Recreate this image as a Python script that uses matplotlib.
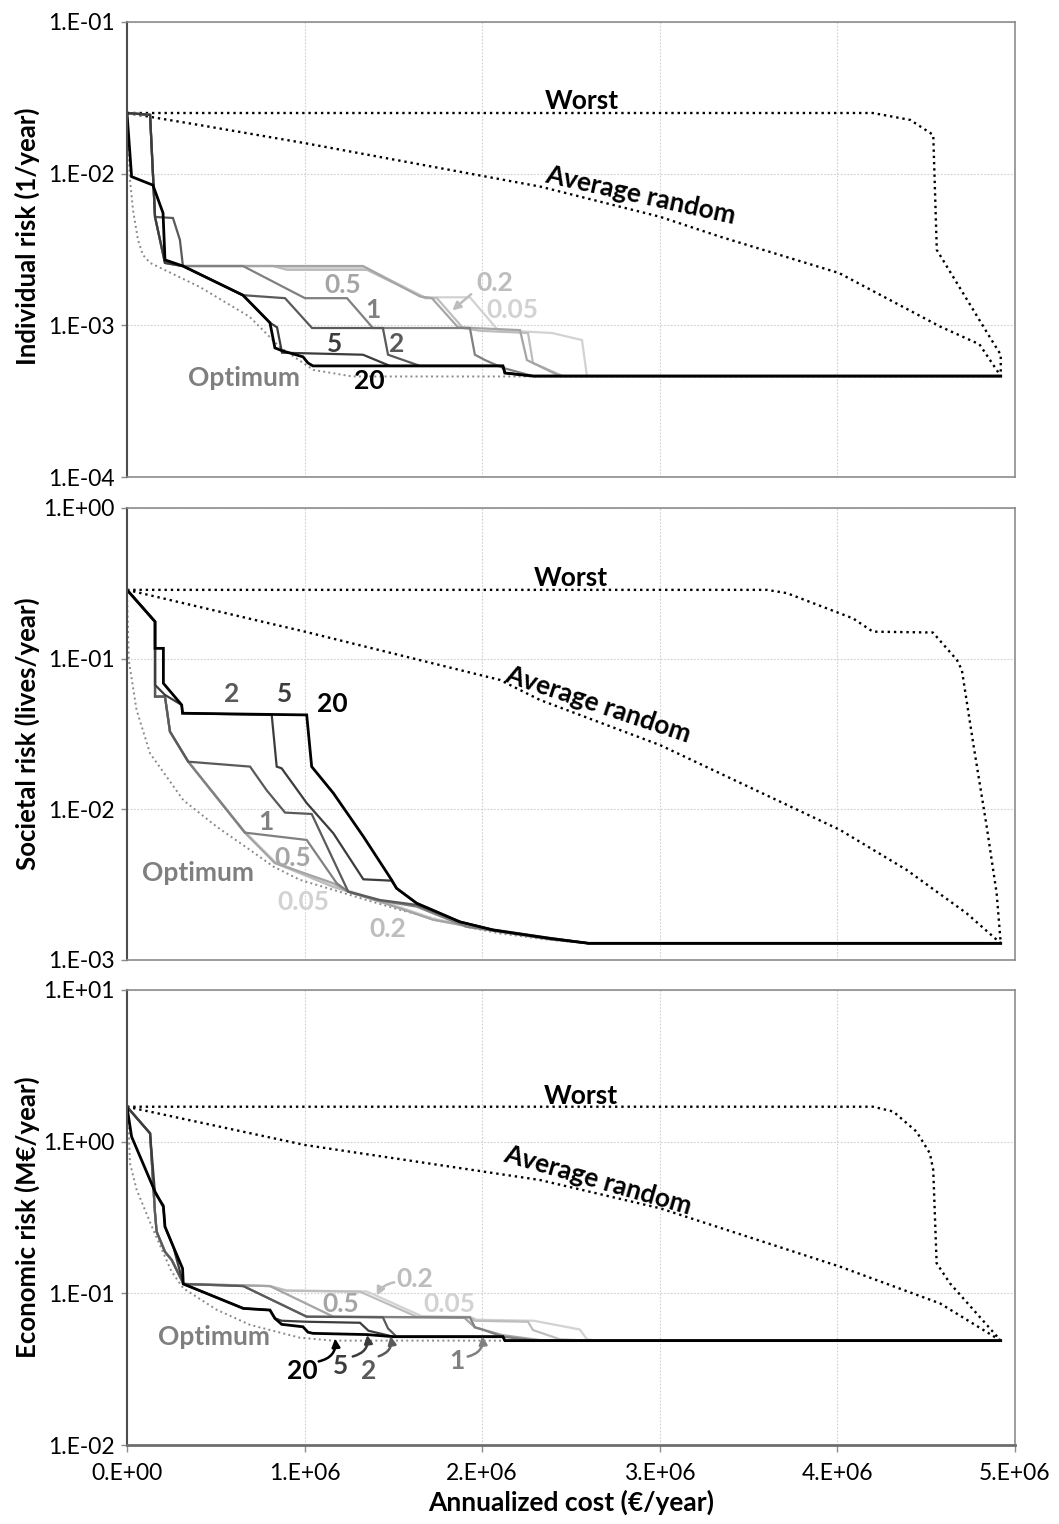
import numpy as np
import matplotlib
matplotlib.use("Agg")
import matplotlib.pyplot as plt
from matplotlib.ticker import FixedLocator, FuncFormatter, NullLocator

plt.rcParams['font.family'] = ['Lato', 'DejaVu Sans']

# ---------------------------------------------------------------
# data, cost in M€/year (scaled to €/year when plotted)
# ---------------------------------------------------------------

# --- individual risk (1/year) ---
ir_cost_20 = [0, 0.026, 0.146, 0.203, 0.214, 0.315, 0.653, 0.805, 0.833, 0.873, 0.991, 1.019, 1.047, 2.117, 2.128, 2.286, 4.92]
ir_risk_20 = [2.51e-2, 9.55e-3, 8.4e-3, 5.5e-3, 2.7e-3, 2.46e-3, 1.58e-3, 1.04e-3, 7.1e-4, 6.8e-4, 6.2e-4, 5.65e-4, 5.4e-4, 5.4e-4, 4.85e-4, 4.63e-4, 4.63e-4]
ir_cost_5 = [0, 0.13, 0.158, 0.214, 0.315, 0.653, 0.805, 0.845, 0.873, 1.329, 1.481, 2.117, 2.128, 2.286, 4.92]
ir_risk_5 = [2.51e-2, 2.44e-2, 5.18e-3, 2.58e-3, 2.46e-3, 1.58e-3, 1.04e-3, 9.7e-4, 6.6e-4, 6.4e-4, 5.4e-4, 5.4e-4, 4.85e-4, 4.63e-4, 4.63e-4]
ir_cost_2 = [0, 0.13, 0.158, 0.259, 0.298, 0.315, 0.653, 0.89, 1.042, 1.441, 1.47, 1.65, 2.117, 2.128, 2.286, 4.92]
ir_risk_2 = [2.51e-2, 2.44e-2, 5.18e-3, 5.1e-3, 3.66e-3, 2.46e-3, 1.58e-3, 1.51e-3, 9.6e-4, 9.6e-4, 6.4e-4, 5.4e-4, 5.4e-4, 4.85e-4, 4.63e-4, 4.63e-4]
ir_cost_1 = [0, 0.13, 0.158, 0.214, 0.315, 0.653, 1.002, 1.239, 1.385, 1.931, 1.959, 2.016, 2.117, 2.286, 4.92]
ir_risk_1 = [2.51e-2, 2.44e-2, 5.18e-3, 2.58e-3, 2.46e-3, 2.46e-3, 1.51e-3, 1.51e-3, 9.6e-4, 9.6e-4, 6.4e-4, 5.9e-4, 5.24e-4, 4.63e-4, 4.63e-4]
ir_cost_05 = [0, 0.13, 0.158, 0.214, 0.315, 1.329, 1.65, 1.717, 1.864, 2.213, 2.252, 2.438, 4.92]
ir_risk_05 = [2.51e-2, 2.44e-2, 5.18e-3, 2.58e-3, 2.46e-3, 2.46e-3, 1.55e-3, 1.51e-3, 9.7e-4, 9.3e-4, 5.9e-4, 4.63e-4, 4.63e-4]
ir_cost_02 = [0, 0.13, 0.158, 0.214, 0.315, 0.822, 0.901, 1.351, 1.678, 1.745, 1.892, 1.988, 2.258, 2.286, 2.455, 4.92]
ir_risk_02 = [2.51e-2, 2.44e-2, 5.18e-3, 2.58e-3, 2.46e-3, 2.46e-3, 2.32e-3, 2.32e-3, 1.51e-3, 1.51e-3, 9.6e-4, 9.2e-4, 8.9e-4, 5.65e-4, 4.63e-4, 4.63e-4]
ir_cost_005 = [0, 0.13, 0.158, 0.214, 0.315, 0.822, 0.901, 1.351, 1.678, 1.931, 2.089, 2.393, 2.562, 2.59, 4.92]
ir_risk_005 = [2.51e-2, 2.44e-2, 5.18e-3, 2.58e-3, 2.46e-3, 2.46e-3, 2.38e-3, 2.38e-3, 1.53e-3, 1.53e-3, 9.3e-4, 8.9e-4, 8.0e-4, 4.63e-4, 4.63e-4]
ir_cost_opt = [0, 0.017, 0.034, 0.062, 0.09, 0.13, 0.41, 0.69, 0.86, 1.05, 1.27, 4.92]
ir_risk_opt = [2.51e-2, 9.1e-3, 5.75e-3, 3.66e-3, 2.91e-3, 2.58e-3, 1.79e-3, 1.14e-3, 7.2e-4, 5.08e-4, 4.6e-4, 4.6e-4]
ir_cost_worst = [0, 4.2, 4.41, 4.48, 4.54, 4.56, 4.86, 4.92, 4.92]
ir_risk_worst = [2.51e-2, 2.51e-2, 2.26e-2, 2.0e-2, 1.8e-2, 3.14e-3, 8.3e-4, 6.4e-4, 4.63e-4]
ir_cost_avg = [0, 0.41, 1.0, 2.33, 3.0, 3.34, 4.01, 4.35, 4.58, 4.8, 4.92]
ir_risk_avg = [2.51e-2, 2.09e-2, 1.59e-2, 8.2e-3, 5.2e-3, 3.84e-3, 2.21e-3, 1.36e-3, 9.8e-4, 7.5e-4, 4.63e-4]

# --- societal risk (lives/year) ---
sr_cost_20 = [0, 0.158, 0.158, 0.205, 0.205, 0.308, 0.313, 1.012, 1.04, 1.162, 1.331, 1.49, 1.518, 1.631, 1.875, 2.063, 2.382, 2.6, 4.92]
sr_risk_20 = [0.286, 0.176, 0.117, 0.117, 0.0686, 0.0493, 0.0434, 0.0423, 0.0192, 0.0128, 0.0066, 0.0034, 0.00299, 0.00238, 0.00179, 0.00158, 0.00139, 0.00129, 0.00129]
sr_cost_5 = [0, 0.158, 0.158, 0.214, 0.308, 0.313, 0.815, 0.843, 0.871, 1.012, 1.162, 1.331, 1.49, 1.518, 1.631, 1.875, 2.063, 2.382, 2.6, 4.92]
sr_risk_5 = [0.286, 0.176, 0.0669, 0.0574, 0.0493, 0.0434, 0.0423, 0.0192, 0.0187, 0.011, 0.00693, 0.00343, 0.00336, 0.00299, 0.00238, 0.00179, 0.00158, 0.00139, 0.00129, 0.00129]
sr_cost_2 = [0, 0.158, 0.158, 0.214, 0.242, 0.345, 0.693, 0.786, 0.89, 1.04, 1.246, 1.425, 1.631, 1.875, 2.063, 2.382, 2.6, 4.92]
sr_risk_2 = [0.286, 0.176, 0.056, 0.056, 0.0328, 0.0207, 0.0192, 0.0134, 0.00951, 0.00931, 0.00284, 0.0025, 0.00232, 0.00179, 0.00158, 0.00139, 0.00129, 0.00129]
sr_cost_1 = [0, 0.158, 0.158, 0.214, 0.242, 0.345, 0.664, 1.012, 1.181, 1.246, 1.406, 1.631, 1.913, 2.382, 2.6, 4.92]
sr_risk_1 = [0.286, 0.176, 0.056, 0.056, 0.0328, 0.0207, 0.007, 0.00626, 0.00323, 0.00284, 0.0025, 0.00226, 0.00166, 0.00137, 0.00129, 0.00129]
sr_cost_05 = [0, 0.158, 0.158, 0.214, 0.242, 0.345, 0.664, 0.833, 1.162, 1.246, 1.443, 1.725, 1.913, 2.382, 2.6, 4.92]
sr_risk_05 = [0.286, 0.176, 0.056, 0.056, 0.0328, 0.0207, 0.007, 0.0044, 0.00323, 0.00284, 0.0024, 0.00185, 0.00168, 0.0014, 0.00129, 0.00129]
sr_cost_02 = [0, 0.158, 0.158, 0.214, 0.242, 0.345, 0.664, 0.833, 1.162, 1.443, 1.725, 1.913, 2.382, 2.6, 4.92]
sr_risk_02 = [0.286, 0.176, 0.056, 0.056, 0.0328, 0.0207, 0.007, 0.0044, 0.00305, 0.0024, 0.00185, 0.00168, 0.0014, 0.00129, 0.00129]
sr_cost_005 = [0, 0.158, 0.158, 0.214, 0.242, 0.345, 0.664, 0.833, 1.162, 1.443, 1.725, 1.913, 2.382, 2.6, 4.92]
sr_risk_005 = [0.286, 0.176, 0.056, 0.056, 0.0328, 0.0207, 0.0071, 0.0045, 0.0031, 0.00245, 0.00188, 0.0017, 0.0014, 0.00129, 0.00129]
sr_cost_opt = [0, 0.01, 0.054, 0.13, 0.317, 0.505, 0.693, 0.824, 0.974, 1.162, 1.349, 1.537, 1.725, 1.913, 2.1, 2.382, 2.6, 4.92]
sr_risk_opt = [0.286, 0.098, 0.0456, 0.0235, 0.0115, 0.00767, 0.00537, 0.00417, 0.0034, 0.00292, 0.0025, 0.00215, 0.00189, 0.00166, 0.0015, 0.00136, 0.00129, 0.00129]
sr_cost_worst = [0, 3.603, 3.716, 4.088, 4.2, 4.538, 4.673, 4.701, 4.765, 4.841, 4.897, 4.92]
sr_risk_worst = [0.286, 0.286, 0.272, 0.185, 0.151, 0.149, 0.098, 0.0841, 0.0274, 0.00767, 0.00277, 0.00129]
sr_cost_avg = [0, 0.41, 1.002, 2.1, 2.325, 3.001, 4.015, 4.39, 4.728, 4.92]
sr_risk_avg = [0.286, 0.22, 0.151, 0.0722, 0.0532, 0.0267, 0.0073, 0.00396, 0.00204, 0.00129]

# --- economic risk (M€/year) ---
er_cost_20 = [0, 0.026, 0.158, 0.205, 0.214, 0.261, 0.313, 0.317, 0.655, 0.805, 0.833, 0.871, 0.991, 1.019, 1.047, 1.35, 1.5, 2.117, 2.128, 4.92]
er_risk_20 = [1.70, 1.079, 0.468, 0.3726, 0.2752, 0.203, 0.146, 0.1154, 0.0796, 0.0776, 0.0684, 0.0625, 0.0602, 0.0555, 0.0545, 0.0535, 0.0518, 0.0518, 0.0488, 0.0488]
er_cost_5 = [0, 0.13, 0.158, 0.205, 0.214, 0.261, 0.317, 0.655, 0.805, 0.833, 0.871, 1.012, 1.312, 1.36, 1.5, 2.117, 2.128, 4.92]
er_risk_5 = [1.70, 1.135, 0.456, 0.382, 0.2752, 0.203, 0.1154, 0.0796, 0.0776, 0.0684, 0.066, 0.065, 0.064, 0.0567, 0.0518, 0.0518, 0.0488, 0.0488]
er_cost_2 = [0, 0.13, 0.158, 0.167, 0.214, 0.252, 0.313, 0.317, 0.655, 1.012, 1.441, 1.47, 1.518, 2.117, 2.128, 4.92]
er_risk_2 = [1.70, 1.135, 0.337, 0.255, 0.188, 0.166, 0.119, 0.1154, 0.1117, 0.0702, 0.0695, 0.0587, 0.0518, 0.0518, 0.0488, 0.0488]
er_cost_1 = [0, 0.13, 0.158, 0.167, 0.214, 0.252, 0.313, 0.317, 0.655, 1.012, 1.931, 1.959, 2.0, 2.117, 2.3, 4.92]
er_risk_1 = [1.70, 1.135, 0.337, 0.255, 0.188, 0.166, 0.119, 0.1154, 0.1117, 0.0702, 0.0695, 0.0597, 0.0578, 0.0518, 0.0488, 0.0488]
er_cost_05 = [0, 0.13, 0.158, 0.167, 0.214, 0.252, 0.313, 0.317, 0.805, 1.162, 1.90, 1.959, 2.117, 2.35, 4.92]
er_risk_05 = [1.70, 1.135, 0.337, 0.255, 0.188, 0.166, 0.119, 0.1154, 0.1117, 0.0702, 0.0690, 0.0597, 0.0530, 0.0488, 0.0488]
er_cost_02 = [0, 0.13, 0.158, 0.167, 0.214, 0.252, 0.313, 0.317, 0.805, 0.899, 1.312, 1.631, 1.931, 1.959, 2.258, 2.286, 2.438, 2.6, 4.92]
er_risk_02 = [1.70, 1.135, 0.337, 0.255, 0.188, 0.166, 0.119, 0.1154, 0.1117, 0.1041, 0.1026, 0.0702, 0.0695, 0.066, 0.065, 0.0573, 0.0498, 0.0488, 0.0488]
er_cost_005 = [0, 0.13, 0.158, 0.167, 0.214, 0.252, 0.313, 0.317, 0.805, 0.899, 1.35, 1.66, 1.931, 1.97, 2.29, 2.55, 2.59, 2.65, 4.92]
er_risk_005 = [1.70, 1.135, 0.337, 0.255, 0.188, 0.166, 0.119, 0.1154, 0.1117, 0.1045, 0.103, 0.0707, 0.070, 0.067, 0.066, 0.0578, 0.0498, 0.0488, 0.0488]
er_cost_opt = [0, 0.01, 0.017, 0.055, 0.148, 0.25, 0.317, 0.505, 0.693, 0.974, 1.162, 4.92]
er_risk_opt = [1.70, 1.19, 0.72, 0.48, 0.262, 0.14, 0.108, 0.078, 0.062, 0.051, 0.0488, 0.0488]
er_cost_worst = [0, 4.202, 4.315, 4.446, 4.521, 4.54, 4.559, 4.634, 4.92]
er_risk_worst = [1.70, 1.70, 1.58, 1.164, 0.838, 0.65, 0.158, 0.1165, 0.0488]
er_cost_avg = [0, 0.41, 1.002, 2.325, 3.001, 4.015, 4.578, 4.92]
er_risk_avg = [1.70, 1.34, 0.951, 0.559, 0.364, 0.15, 0.0859, 0.0488]

series_keys = ['0.05', '0.2', '0.5', '1', '2', '5', '20']
ylabels = ['Individual risk (1/year)', 'Societal risk (lives/year)', 'Economic risk (M€/year)']
decades = [(-4, -1), (-3, 0), (-2, 1)]
x_ticks = [0, 1e6, 2e6, 3e6, 4e6, 5e6]

# ---------------------------------------------------------------
colors = {'0.05': '#d2d2d2', '0.2': '#bdbdbd', '0.5': '#a5a5a5', '1': '#808080',
          '2': '#5a5a5a', '5': '#3c3c3c', '20': '#000000'}
widths = {'0.05': 1.6, '0.2': 1.6, '0.5': 1.6, '1': 1.6, '2': 1.6, '5': 1.6, '20': 2.0}

panels = [
    {'curves': {'0.05': (ir_cost_005, ir_risk_005), '0.2': (ir_cost_02, ir_risk_02),
                '0.5': (ir_cost_05, ir_risk_05), '1': (ir_cost_1, ir_risk_1),
                '2': (ir_cost_2, ir_risk_2), '5': (ir_cost_5, ir_risk_5),
                '20': (ir_cost_20, ir_risk_20)},
     'opt': (ir_cost_opt, ir_risk_opt), 'worst': (ir_cost_worst, ir_risk_worst),
     'avg': (ir_cost_avg, ir_risk_avg)},
    {'curves': {'0.05': (sr_cost_005, sr_risk_005), '0.2': (sr_cost_02, sr_risk_02),
                '0.5': (sr_cost_05, sr_risk_05), '1': (sr_cost_1, sr_risk_1),
                '2': (sr_cost_2, sr_risk_2), '5': (sr_cost_5, sr_risk_5),
                '20': (sr_cost_20, sr_risk_20)},
     'opt': (sr_cost_opt, sr_risk_opt), 'worst': (sr_cost_worst, sr_risk_worst),
     'avg': (sr_cost_avg, sr_risk_avg)},
    {'curves': {'0.05': (er_cost_005, er_risk_005), '0.2': (er_cost_02, er_risk_02),
                '0.5': (er_cost_05, er_risk_05), '1': (er_cost_1, er_risk_1),
                '2': (er_cost_2, er_risk_2), '5': (er_cost_5, er_risk_5),
                '20': (er_cost_20, er_risk_20)},
     'opt': (er_cost_opt, er_risk_opt), 'worst': (er_cost_worst, er_risk_worst),
     'avg': (er_cost_avg, er_risk_avg)},
]

# text placement (x in M€, y in data units), rotation of "Average random"
annot = [
    {'worst': (2.56, 0.0301), 'avg': (2.89, 0.00723, -12.5), 'opt': (0.66, 0.00045),
     'labels': {'0.5': (1.216, 0.00185), '0.2': (2.07, 0.0019), '0.05': (2.17, 0.00126),
                '1': (1.385, 0.00126), '5': (1.166, 0.000753), '2': (1.52, 0.000753),
                '20': (1.363, 0.00043)}},
    {'worst': (2.5, 0.343), 'avg': (2.65, 0.0493, -18.5), 'opt': (0.40, 0.00378),
     'labels': {'2': (0.591, 0.0583), '5': (0.89, 0.0583), '20': (1.154, 0.050),
                '1': (0.783, 0.00824), '0.5': (0.935, 0.00475), '0.05': (0.991, 0.00243),
                '0.2': (1.47, 0.0016)}},
    {'worst': (2.556, 2.0), 'avg': (2.65, 0.559, -16), 'opt': (0.49, 0.0515),
     'labels': {'0.2': (1.62, 0.1243), '0.5': (1.205, 0.0851), '0.05': (1.813, 0.0851),
                '20': (0.985, 0.0308), '5': (1.205, 0.0332), '2': (1.363, 0.031),
                '1': (1.858, 0.0358)}},
]
# arrows: key -> (text end point, target point), curvature
arrows = [
    {'0.2': ((1.95, 0.00165), (1.82, 0.00122), 0.0)},
    {},
    {'0.2': ((1.52, 0.119), (1.40, 0.093), 0.3),
     '20': ((1.064, 0.0353), (1.17, 0.0525), 0.5),
     '5': ((1.256, 0.038), (1.351, 0.0555), 0.5),
     '2': ((1.402, 0.038), (1.481, 0.0545), 0.5),
     '1': ((1.903, 0.038), (1.999, 0.0545), 0.5)},
]

rects = [[0.1199, 0.6870, 0.8385, 0.2986],
         [0.1199, 0.3701, 0.8385, 0.2966],
         [0.1199, 0.0518, 0.8385, 0.2986]]
ylabel_y = [0.53, 0.5, 0.5]


def fmt_y(v, pos):
    e = int(round(np.log10(v)))
    return f"1.E{e:+03d}"


def fmt_x(v, pos):
    if v == 0:
        return "0.E+00"
    return f"{v / 1e6:.0f}.E+06"


fig = plt.figure(figsize=(10.59, 15.24), dpi=100)
M = 1e6

for i, (p, a, arr) in enumerate(zip(panels, annot, arrows)):
    ax = fig.add_axes(rects[i])
    ax.set_yscale('log')
    lo, hi = decades[i]
    ax.set_ylim(10.0 ** lo, 10.0 ** hi)
    ax.set_xlim(0, 5e6)

    ax.yaxis.set_major_locator(FixedLocator([10.0 ** e for e in range(lo, hi + 1)]))
    ax.yaxis.set_minor_locator(NullLocator())
    ax.yaxis.set_major_formatter(FuncFormatter(fmt_y))
    ax.xaxis.set_major_locator(FixedLocator(x_ticks))
    ax.grid(True, which='major', color='#cfcfcf', linestyle=(0, (1.5, 1.5)), lw=0.8)
    ax.set_axisbelow(True)

    for s in ax.spines.values():
        s.set_color('#8c8c8c')
        s.set_linewidth(1.2)
    ax.spines['left'].set_color('#4d4d4d')
    ax.spines['left'].set_linewidth(1.5)
    ax.tick_params(axis='y', length=4, width=1, color='#8c8c8c', pad=5, labelsize=16.5)
    if i == 2:
        ax.spines['bottom'].set_color('#6e6e6e')
        ax.spines['bottom'].set_linewidth(2)
        ax.xaxis.set_major_formatter(FuncFormatter(fmt_x))
        ax.tick_params(axis='x', length=5, width=1, color='#8c8c8c', pad=8, labelsize=16.5)
        ax.set_xlabel('Annualized cost (€/year)', fontsize=19, fontweight='bold')
        ax.xaxis.set_label_coords(0.5, -0.097)
    else:
        ax.tick_params(axis='x', length=0, labelbottom=False)

    ax.set_ylabel(ylabels[i], fontsize=18.5, fontweight='bold')
    ax.yaxis.set_label_coords(-0.098, ylabel_y[i])

    # reference curves
    wx, wy = p['worst']
    ax.plot(np.array(wx) * M, wy, color='black', linestyle=':', lw=1.7)
    vx, vy = p['avg']
    ax.plot(np.array(vx) * M, vy, color='black', linestyle=':', lw=1.7)
    ox, oy = p['opt']
    ax.plot(np.array(ox) * M, oy, color='#8a8a8a', linestyle=':', lw=1.4)

    for k in series_keys:
        cx, cy = p['curves'][k]
        ax.plot(np.array(cx) * M, cy, color=colors[k], lw=widths[k],
                solid_joinstyle='miter')

    tkw = dict(fontsize=19, fontweight='bold', ha='center', va='center')
    ax.text(a['worst'][0] * M, a['worst'][1], 'Worst', color='black', **tkw)
    ax.text(a['avg'][0] * M, a['avg'][1], 'Average random', color='black',
            rotation=a['avg'][2], rotation_mode='anchor', **tkw)
    ax.text(a['opt'][0] * M, a['opt'][1], 'Optimum', color='#7f7f7f', **tkw)
    for k, (lx, ly) in a['labels'].items():
        ax.text(lx * M, ly, k, color=colors[k], **tkw)

    for k, ((sx, sy), (tx, ty), rad) in arr.items():
        ax.annotate('', xy=(tx * M, ty), xytext=(sx * M, sy),
                    arrowprops=dict(arrowstyle='-|>', color=colors[k], lw=1.8,
                                    mutation_scale=12,
                                    connectionstyle=f'arc3,rad={rad}'))

fig.savefig('out.png', dpi=100)
